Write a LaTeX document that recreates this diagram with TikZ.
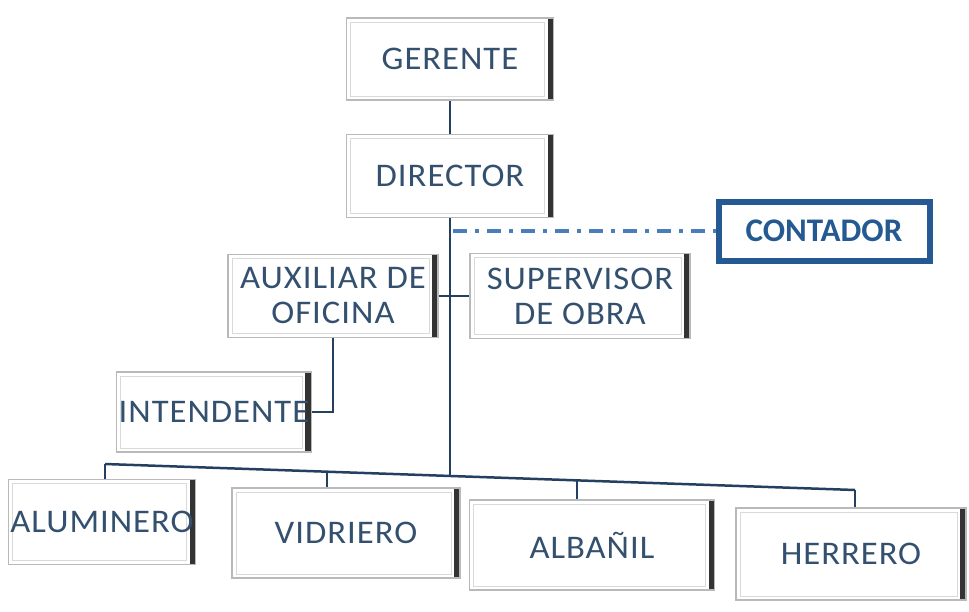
\documentclass[tikz,border=0pt]{standalone}
\usepackage{fontspec}
\setmainfont{Carlito}
\newfontfamily\cargofont[LetterSpace=3,FakeStretch=1.05]{Carlito}
\usepackage{xcolor}
\usetikzlibrary{positioning}
\definecolor{textoazul}{HTML}{34506F}
\definecolor{lineaazul}{HTML}{243F60}
\definecolor{contazul}{HTML}{245A91}
\definecolor{guionazul}{HTML}{4A7EBB}

\begin{document}
\begin{tikzpicture}[x=1pt,y=-1pt,
   cargo/.style={draw=gray!55,line width=1.5pt,fill=white,align=center,inner sep=2pt,
     text=textoazul,font=\cargofont\fontsize{33}{35}\selectfont,
     path picture={
       \draw[gray!30,line width=1pt] ([shift={(4pt,-4pt)}]path picture bounding box.north west)
          rectangle ([shift={(-9pt,4pt)}]path picture bounding box.south east);
       \fill[black!80] ([xshift=-6pt]path picture bounding box.north east)
          rectangle (path picture bounding box.south east);}},
   linea/.style={draw=lineaazul,line width=2.5pt}]
   \useasboundingbox (0,0) rectangle (969,611);
   % jefes
   \node[cargo,minimum width=207pt,minimum height=82pt] (ger) at (450,59) {GERENTE};
   \node[cargo,minimum width=207pt,minimum height=83pt] (dir) at (450,176) {DIRECTOR};
   \node[draw=contazul,line width=6pt,minimum width=211pt,minimum height=59pt,text=contazul,
         font=\bfseries\fontsize{33}{35}\selectfont] (cont) at (824,231) {CONTADOR\hspace{12pt}};
   % segundo nivel
   \node[cargo,minimum width=210pt,minimum height=83pt] (aux) at (333,296) {AUXILIAR DE\\OFICINA};
   \node[cargo,minimum width=220pt,minimum height=85pt] (sup) at (580,296) {SUPERVISOR\\DE OBRA};
   \node[cargo,minimum width=192pt,minimum height=80pt] (int) at (214,412) {INTENDENTE};
   % operarios
   \node[cargo,minimum width=185pt,minimum height=85pt] (alu) at (102,522) {ALUMINERO};
   \node[cargo,minimum width=228pt,minimum height=90pt] (vid) at (346,533) {VIDRIERO};
   \node[cargo,minimum width=245pt,minimum height=90pt] (alb) at (592,545) {ALBA\~NIL};
   \node[cargo,minimum width=230pt,minimum height=92pt] (her) at (851,554) {HERRERO};
   % lineas
   \coordinate (b0) at (105,464);
   \coordinate (b1) at (327,471.7);
   \coordinate (bc) at (450,476);
   \coordinate (b2) at (577,480.4);
   \coordinate (b3) at (855,490);
   \coordinate (g) at (450,231);
   \draw[linea] (ger) -- (dir);
   \draw[linea] (dir.south) -- (bc);
   \draw[linea] (aux.east) -- (sup.west);
   \draw[linea] (aux.south) |- (int.east);
   \draw[linea] (b0) -- (b3);
   \draw[linea] (b0) -- (b0 |- alu.north);
   \draw[linea] (b1) -- (b1 |- vid.north);
   \draw[linea] (b2) -- (b2 |- alb.north);
   \draw[linea] (b3) -- (b3 |- her.north);
   \draw[guionazul,line width=3.5pt,dash pattern=on 14pt off 8pt on 4pt off 8pt]
      ([xshift=3pt]g) -- (cont.west);
\end{tikzpicture}
\end{document}
